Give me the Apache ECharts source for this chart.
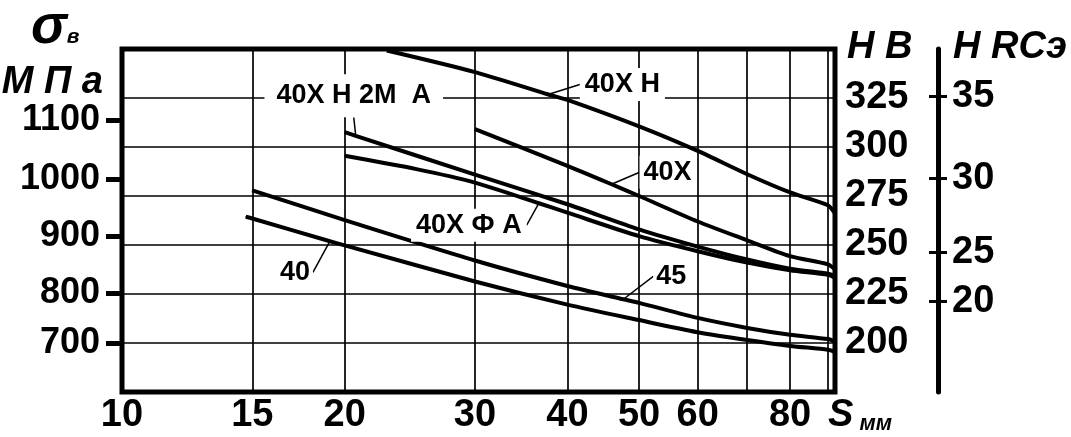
<!DOCTYPE html>
<html><head><meta charset="utf-8">
<script src="https://cdn.jsdelivr.net/npm/echarts@6/dist/echarts.min.js"></script>
<style>html,body{margin:0;padding:0;background:#fff}#c{width:1071px;height:437px}</style>
</head><body><div id="c"></div>
<script>
// ---- data (S in mm, hardness in HB units = the chart's linear grid) ----
const X_LABELS = [10, 15, 20, 30, 40, 50, 60, 80];
const X_GRID = [15, 20, 30, 40, 50, 60, 70, 80, 90];
const S_MAX = 92;

const HB_TICKS = [200, 225, 250, 275, 300, 325];
const SIGMA_TICKS = [700, 800, 900, 1000, 1100];
const SIGMA_AT_HB = [200, 225.6, 254.3, 283.4, 313.9];
const HRC_TICKS = [20, 25, 30, 35];
const HRC_AT_HB = [221.3, 246.1, 283.9, 325.7];

const SERIES_NAMES = ['40ХН', '40ХН2МА', '40ХФА', '40Х', '45', '40'];
const LABEL_TEXT = ['40Х Н', '40Х Н 2М  А', '40Х Ф А', '40Х', '45', '40'];

const S_40XH = [22.8, 30, 37.7, 40, 50, 60, 70, 80, 90, 92];
const HB_40XH = [349.2, 338.2, 326.8, 324.0, 310.5, 298.0, 286.1, 276.8, 270.3, 266.2];

const S_40XH2MA = [20, 20.7, 30, 40, 50, 60, 70, 80, 90, 92];
const HB_40XH2MA = [307.6, 305.7, 285.9, 270.8, 258.0, 249.2, 242.6, 237.9, 235.4, 234.4];

const S_40XFA = [20, 25, 30, 36.6, 40, 50, 60, 70, 80, 90, 92];
const HB_40XFA = [295.5, 288.7, 281.8, 271.3, 266.5, 254.5, 246.8, 241.0, 237.1, 234.8, 233.3];

const S_40X = [30, 40, 45.9, 50, 60, 70, 80, 90, 92];
const HB_40X = [309.1, 290.4, 281.0, 275.0, 262.0, 252.4, 244.3, 240.1, 237.5];

const S_45 = [15, 20, 30, 40, 47.6, 50, 60, 70, 80, 90, 92];
const HB_45 = [277.9, 262.7, 242.1, 229.1, 222.3, 220.5, 212.8, 207.7, 204.2, 202.0, 200.7];

const S_40 = [14.7, 15, 19.1, 20, 30, 40, 50, 60, 70, 80, 90, 92];
const HB_40 = [264.4, 263.5, 251.9, 249.8, 231.4, 219.6, 211.7, 205.5, 201.5, 198.5, 196.6, 195.5];

// point (by S) where each curve's label leader touches it
const LABEL_S = [37.7, 20.7, 36.6, 45.9, 47.6, 19.1];

// ---- styling ----
const FONT = "'Liberation Sans', Arial, sans-serif";
const LABEL_SHIFT = [[74, -10], [-2, -40], [-70, 22], [56, -12], [48, -23], [-35, 31]];
const LABEL_PAD = [[3, 5], [8, 12], [3, 5], [3, 4], [2, 3], [2, 3]];

const SX = [S_40XH, S_40XH2MA, S_40XFA, S_40X, S_45, S_40];
const SY = [HB_40XH, HB_40XH2MA, HB_40XFA, HB_40X, HB_45, HB_40];

function pick(list, labels) {
  return function (v) {
    for (let i = 0; i < list.length; i++) if (Math.abs(list[i] - v) < 1e-6) return String(labels[i]);
    return '';
  };
}

const series = SERIES_NAMES.map(function (name, i) {
  const data = SX[i].map(function (s, j) {
    const item = { value: [s, SY[i][j]] };
    if (s === LABEL_S[i]) {
      item.label = {
        show: true, position: 'inside', formatter: LABEL_TEXT[i],
        fontFamily: FONT, fontWeight: 'bold', fontSize: 27, color: '#000',
        backgroundColor: '#fff', padding: LABEL_PAD[i]
      };
    }
    return item;
  });
  return {
    type: 'line', name: name, yAxisIndex: 0, data: data,
    showSymbol: true, symbol: 'circle', symbolSize: 1,
    smooth: 0.25,
    lineStyle: { width: 4, color: '#000' },
    itemStyle: { color: '#000' },
    label: { show: false },
    labelLayout: { dx: LABEL_SHIFT[i][0], dy: LABEL_SHIFT[i][1] },
    labelLine: { show: true, lineStyle: { color: '#000', width: 1.5 } },
    emphasis: { disabled: true }, silent: true
  };
});

const numLabel = { fontFamily: FONT, fontWeight: 'bold', fontSize: 38, color: '#000' };
const axisName = { fontFamily: FONT, fontWeight: 'bold', fontStyle: 'italic', fontSize: 38, color: '#000' };

const option = {
  animation: false,
  backgroundColor: '#fff',
  title: {
    text: '{s|σ}{v|в}', left: 26, top: -4,
    textStyle: {
      rich: {
        s: { fontFamily: FONT, fontWeight: 'bold', fontStyle: 'italic', fontSize: 54, color: '#000', verticalAlign: 'bottom' },
        v: { fontFamily: FONT, fontWeight: 'bold', fontStyle: 'italic', fontSize: 21, color: '#000', verticalAlign: 'bottom', padding: [0, 0, 7, 0] }
      }
    }
  },
  grid: { left: 122, right: 236, top: 49, bottom: 45, show: true, borderColor: '#000', borderWidth: 5, outerBoundsMode: 'none', containLabel: false },
  xAxis: {
    type: 'log', logBase: 10, min: 10, max: S_MAX,
    axisLine: { show: false },
    axisTick: { show: false, customValues: X_GRID },
    minorTick: { show: false }, minorSplitLine: { show: false },
    splitLine: { show: true, lineStyle: { color: '#000', width: 1.7 } },
    axisLabel: Object.assign({ customValues: X_LABELS, margin: 5 }, numLabel),
    name: '{s|S}{m| мм}', nameLocation: 'end', nameGap: -7,
    nameTextStyle: {
      verticalAlign: 'top', padding: [5, 0, 0, 0],
      rich: {
        s: { fontFamily: FONT, fontWeight: 'bold', fontStyle: 'italic', fontSize: 38, color: '#000', verticalAlign: 'bottom' },
        m: { fontFamily: FONT, fontWeight: 'bold', fontStyle: 'italic', fontSize: 22, color: '#000', verticalAlign: 'bottom' }
      }
    }
  },
  yAxis: [
    {
      type: 'value', position: 'right', min: 175, max: 350, interval: 25,
      axisLine: { show: false }, axisTick: { show: false },
      splitLine: { show: true, lineStyle: { color: '#000', width: 1.7 } },
      axisLabel: Object.assign({ customValues: HB_TICKS, margin: 10 }, numLabel),
      name: 'H B', nameLocation: 'end', nameGap: 1,
      nameTextStyle: Object.assign({ align: 'left', verticalAlign: 'middle', padding: [0, 0, 0, 12] }, axisName)
    },
    {
      type: 'value', position: 'left', min: 175, max: 350,
      axisLine: { show: false },
      axisTick: { show: true, customValues: SIGMA_AT_HB, length: 16, lineStyle: { color: '#000', width: 5 } },
      splitLine: { show: false },
      axisLabel: Object.assign({ customValues: SIGMA_AT_HB, margin: 22, formatter: pick(SIGMA_AT_HB, SIGMA_TICKS) }, numLabel, { fontSize: 36 }),
      name: 'М П а', nameLocation: 'end', nameGap: -38,
      nameTextStyle: Object.assign({ align: 'right', verticalAlign: 'middle', padding: [0, 19, 0, 0] }, axisName, { fontSize: 38 })
    },
    {
      type: 'value', position: 'right', offset: 103, min: 175, max: 350,
      axisLine: { show: true, lineStyle: { color: '#000', width: 5 } },
      axisTick: { show: true, customValues: HRC_AT_HB, length: 9, lineStyle: { color: '#000', width: 3 } },
      splitLine: { show: false },
      axisLabel: Object.assign({ customValues: HRC_AT_HB, margin: 14, formatter: pick(HRC_AT_HB, HRC_TICKS) }, numLabel),
      name: 'H RCэ', nameLocation: 'end', nameGap: 1,
      nameTextStyle: Object.assign({ align: 'left', verticalAlign: 'middle', padding: [0, 0, 0, 15] }, axisName)
    },
    {
      type: 'value', position: 'right', offset: 103, min: 175, max: 350,
      axisLine: { show: false },
      axisTick: { show: true, inside: true, customValues: HRC_AT_HB, length: 9, lineStyle: { color: '#000', width: 3 } },
      splitLine: { show: false },
      axisLabel: { show: false }
    }
  ],
  series: series
};

const chart = echarts.init(document.getElementById('c'), null, { renderer: 'canvas' });
chart.setOption(option);
</script></body></html>
